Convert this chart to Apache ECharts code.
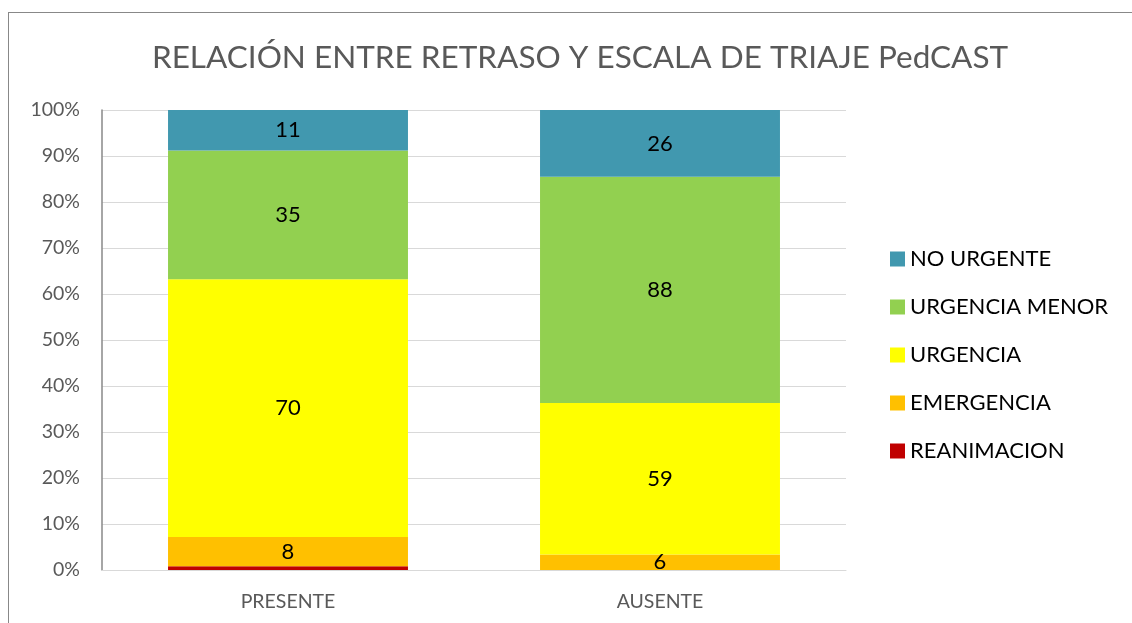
<!DOCTYPE html>
<html>
<head>
<meta charset="utf-8">
<script src="https://cdn.jsdelivr.net/npm/echarts@6/dist/echarts.min.js"></script>
<style>
  html, body { margin: 0; padding: 0; background: #fff; }
  #chart { width: 1132px; height: 623px; }
  .frame { position: absolute; left: 8px; top: 12px; width: 1140px; height: 630px; border: 1px solid #888; pointer-events: none; }
</style>
</head>
<body>
<div id="chart"></div>
<div class="frame"></div>
<script>
// categorias y conteos por nivel de triaje
var categories = ['PRESENTE', 'AUSENTE'];
var seriesNames = ['REANIMACION', 'EMERGENCIA', 'URGENCIA', 'URGENCIA MENOR', 'NO URGENTE'];
var reanimacion = [1, 0];
var emergencia = [8, 6];
var urgencia = [70, 59];
var urgenciaMenor = [35, 88];
var noUrgente = [11, 26];
var colors = ['#C00000', '#FFC000', '#FFFF00', '#92D050', '#4198AF'];
var yTicks = [0, 10, 20, 30, 40, 50, 60, 70, 80, 90, 100];

var counts = [reanimacion, emergencia, urgencia, urgenciaMenor, noUrgente];
var totals = categories.map(function (c, i) {
  return counts.reduce(function (s, arr) { return s + arr[i]; }, 0);
});

var font = 'Lato, "Open Sans", sans-serif';

var series = counts.map(function (arr, k) {
  return {
    name: seriesNames[k],
    type: 'bar',
    stack: 'total',
    barWidth: '64.5%',
    itemStyle: { color: colors[k] },
    label: {
      show: k > 0,
      position: 'inside',
      color: '#000',
      fontSize: 22,
      fontFamily: font,
      formatter: function (p) { return p.data.raw ? String(p.data.raw) : ''; }
    },
    data: arr.map(function (v, i) {
      return { value: v / totals[i] * 100, raw: v };
    })
  };
});

var chart = echarts.init(document.getElementById('chart'));
chart.setOption({
  animation: false,
  title: {
    text: 'RELACIÓN ENTRE RETRASO Y ESCALA DE TRIAJE PedCAST',
    left: 575,
    top: 37,
    textAlign: 'center',
    textStyle: { fontFamily: font, fontSize: 31.5, fontWeight: 'normal', color: '#595959' }
  },
  legend: {
    orient: 'vertical',
    left: 885,
    top: 243,
    itemWidth: 15,
    itemHeight: 15,
    itemGap: 26,
    icon: 'rect',
    data: seriesNames.slice().reverse(),
    textStyle: { fontFamily: font, fontSize: 22, color: '#000' }
  },
  grid: { left: 102, right: 286, top: 110, bottom: 53, containLabel: false },
  xAxis: {
    type: 'category',
    data: categories,
    axisLine: { lineStyle: { color: '#d9d9d9', width: 1 } },
    axisTick: { show: false },
    axisLabel: { fontFamily: font, fontSize: 19.5, color: '#595959', margin: 22 }
  },
  yAxis: {
    type: 'value',
    min: 0,
    max: 100,
    interval: 10,
    axisLine: { show: true, lineStyle: { color: '#888', width: 1.5 } },
    axisTick: { show: false },
    splitLine: { lineStyle: { color: '#d9d9d9', width: 1 } },
    axisLabel: {
      fontFamily: font, fontSize: 19.5, color: '#595959', margin: 22,
      formatter: function (v) { return yTicks.indexOf(v) >= 0 ? v + '%' : ''; }
    }
  },
  series: series
});
</script>
</body>
</html>
